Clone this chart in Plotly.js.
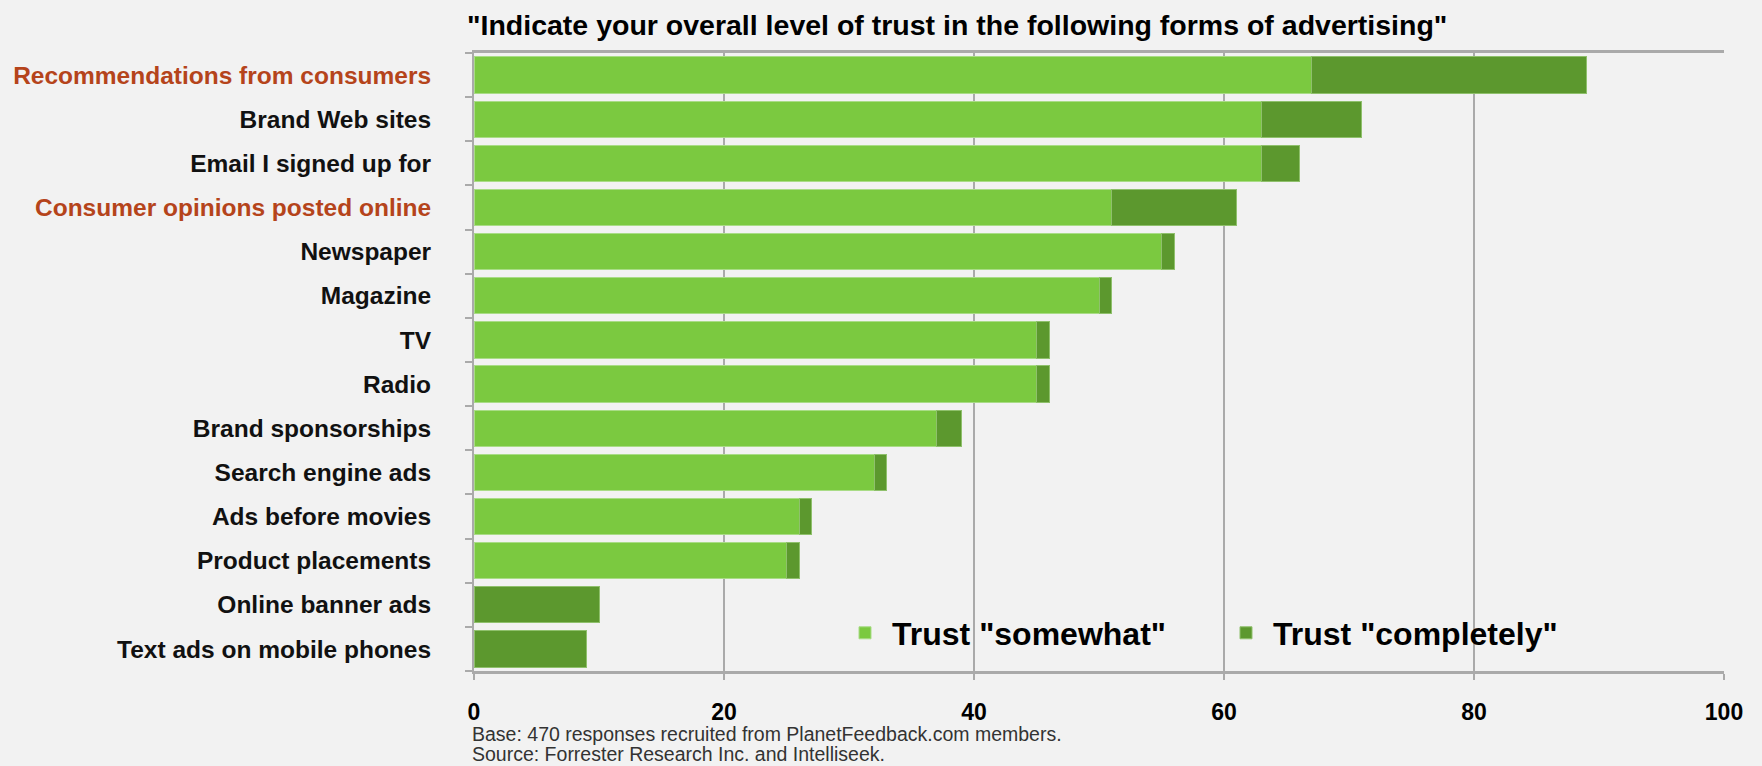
<!DOCTYPE html>
<html>
<head>
<meta charset="utf-8">
<script src="https://cdn.plot.ly/plotly-3.0.1.min.js"></script>
<style>
  html, body { margin: 0; padding: 0; background: #f2f2f2; }
  #chart { width: 1762px; height: 766px; }
</style>
</head>
<body>
<div id="chart"></div>
<script>
// ---- data (top to bottom) ----
const categories = [
  "Recommendations from consumers",
  "Brand Web sites",
  "Email I signed up for",
  "Consumer opinions posted online",
  "Newspaper",
  "Magazine",
  "TV",
  "Radio",
  "Brand sponsorships",
  "Search engine ads",
  "Ads before movies",
  "Product placements",
  "Online banner ads",
  "Text ads on mobile phones"
];
const trustSomewhat   = [67, 63, 63, 51, 55, 50, 45, 45, 37, 32, 26, 25, 0, 0];
const trustCompletely = [22,  8,  3, 10,  1,  1,  1,  1,  2,  1,  1,  1, 10, 9];
const highlighted = ["Recommendations from consumers", "Consumer opinions posted online"];
const xTicks = [0, 20, 40, 60, 80, 100];
const seriesNames = ['Trust "somewhat"', 'Trust "completely"'];
const chartTitle = '"Indicate your overall level of trust in the following forms of advertising"';
const footnotes = [
  "Base: 470 responses recruited from PlanetFeedback.com members.",
  "Source: Forrester Research Inc. and Intelliseek."
];

const LIGHT = "#7bc940";
const DARK = "#5c982e";
const HIGHLIGHT = "#b5441b";
const GRID = "#aaaaaa";

// plot-area geometry in pixels (used only to place legend / notes)
const W = 1762, H = 766;
const M = { l: 474, r: 38, t: 53, b: 95 };
const PW = W - M.l - M.r, PH = H - M.t - M.b;
const px2paperX = px => (px - M.l) / PW;
const px2paperY = py => (H - M.b - py) / PH;

const tickText = categories.map(c =>
  highlighted.includes(c) ? '<span style="color:' + HIGHLIGHT + '">' + c + '</span>' : c
);

const traces = [
  {
    type: "bar", orientation: "h", name: seriesNames[0],
    y: categories, x: trustSomewhat,
    marker: { color: LIGHT, line: { color: "#a9dc86", width: 1 } },
    hoverinfo: "x+y+name"
  },
  {
    type: "bar", orientation: "h", name: seriesNames[1],
    y: categories, x: trustCompletely,
    marker: { color: DARK, line: { color: "#8fc06c", width: 1 } },
    hoverinfo: "x+y+name"
  }
];

const layout = {
  width: W, height: H,
  paper_bgcolor: "#f2f2f2", plot_bgcolor: "#f2f2f2",
  margin: M,
  barmode: "stack", bargap: 0.18,
  showlegend: true,
  title: {
    text: chartTitle,
    font: { family: "Liberation Sans, Arial, sans-serif", size: 28.5, color: "#000", weight: "bold" },
    xref: "container", x: 467 / W, xanchor: "left",
    yref: "container", y: 1 - 25 / H, yanchor: "middle"
  },
  xaxis: {
    range: [0, 100], tickvals: xTicks, ticktext: xTicks.map(String),
    showgrid: true, gridcolor: GRID, gridwidth: 2, zeroline: false,
    showline: true, linecolor: GRID, linewidth: 3, mirror: true,
    ticks: "outside", ticklen: 6, tickcolor: GRID, tickwidth: 2,
    ticklabelstandoff: 12,
    tickfont: { family: "Liberation Sans, Arial, sans-serif", size: 23, color: "#000", weight: "bold" },
    fixedrange: true
  },
  yaxis: {
    type: "category", autorange: "reversed",
    tickmode: "array", tickvals: categories, ticktext: tickText,
    tickson: "boundaries", ticks: "outside", ticklen: 7, tickcolor: GRID, tickwidth: 2,
    showgrid: false, zeroline: false,
    showline: true, linecolor: GRID, linewidth: 2,
    ticklabelstandoff: 36,
    tickfont: { family: "Liberation Sans, Arial, sans-serif", size: 24.5, color: "#111", weight: "bold" },
    fixedrange: true
  },
  legend: {
    orientation: "h", traceorder: "normal",
    xref: "paper", x: px2paperX(838), xanchor: "left",
    yref: "paper", y: px2paperY(633), yanchor: "middle",
    bgcolor: "rgba(0,0,0,0)", borderwidth: 0,
    itemwidth: 44,
    entrywidth: 322, entrywidthmode: "pixels",
    font: { family: "Liberation Sans, Arial, sans-serif", size: 32, color: "#000", weight: "bold" }
  },
  annotations: footnotes.map((t, i) => ({
    text: t, showarrow: false,
    xref: "paper", yref: "paper",
    x: px2paperX(470), xanchor: "left",
    y: px2paperY(734 + i * 20), yanchor: "middle",
    font: { family: "Liberation Sans, Arial, sans-serif", size: 19.5, color: "#333" }
  }))
};

Plotly.newPlot("chart", traces, layout, { displayModeBar: false, staticPlot: true });
</script>
</body>
</html>
